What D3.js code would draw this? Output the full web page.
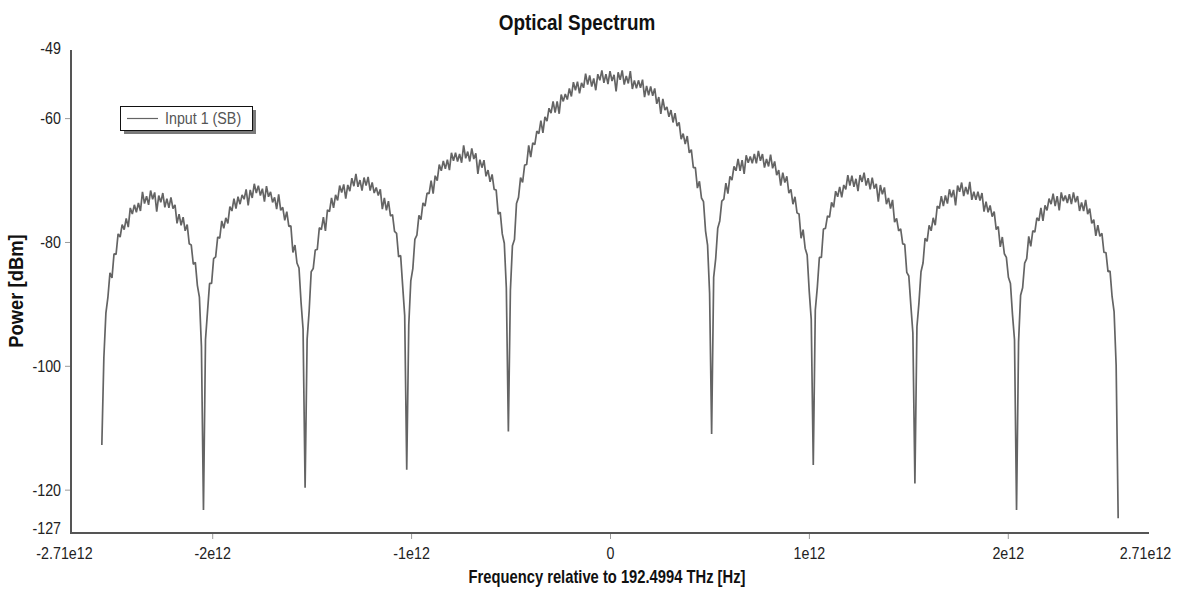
<!DOCTYPE html>
<html>
<head>
<meta charset="utf-8">
<script src="https://cdn.jsdelivr.net/npm/d3@7/dist/d3.min.js"></script>
<style>
  html, body { margin: 0; padding: 0; background: #ffffff; }
  svg { display: block; }
  text { font-family: "Liberation Sans", Arial, sans-serif; }
</style>
</head>
<body>
<script>
// ---- Data -----------------------------------------------------------------
const chartTitle = "Optical Spectrum";
const xTitle = "Frequency relative to 192.4994 THz [Hz]";
const yTitle = "Power [dBm]";
const seriesName = "Input 1 (SB)";

// Axis extent and ticks
const freqDomain = [-2.71e12, 2.71e12];
const powerDomain = [-127, -49];
const freqTicks = [-2.71e12, -2e12, -1e12, 0, 1e12, 2e12, 2.71e12];
const freqTickLabels = ["-2.71e12", "-2e12", "-1e12", "0", "1e12", "2e12", "2.71e12"];
const powerTicks = [-49, -60, -80, -100, -120, -127];
const powerTickLabels = ["-49", "-60", "-80", "-100", "-120", "-127"];

// Sample grid of the trace (Hz)
const freqStartHz = -2.555e12;
const freqStepHz = 1.022e10;

// Measured power per sample (dBm), left to right, one row group per lobe
const powerDbm = [
  // outer lobe, left
  -112.8, -98.7, -91.5, -88.9, -85.0, -85.8, -81.9, -82.0, -78.7, -79.2, -77.2, -78.0, -76.2, -77.6, -74.5, -75.5, -74.0,
  -75.2, -73.7, -75.0, -71.9, -73.8, -72.6, -74.0, -71.7, -73.1, -72.0, -75.1, -72.5, -73.6, -72.1, -74.4, -73.0, -74.5,
  -72.8, -74.6, -74.0, -77.0, -75.5, -77.3, -76.0, -78.2, -77.2, -80.3, -80.5, -83.6, -83.3, -87.0, -88.9, -96.9, -123.3,
  // third lobe, left
  -95.8, -91.2, -86.7, -86.7, -82.7, -82.4, -79.2, -79.4, -76.6, -77.8, -76.1, -77.0, -74.3, -75.0, -73.0, -74.6, -72.7,
  -73.9, -72.4, -73.1, -71.5, -74.1, -71.6, -72.9, -70.6, -72.1, -70.9, -72.5, -71.4, -73.5, -71.0, -72.7, -71.9, -73.6,
  -72.8, -74.7, -72.3, -74.9, -74.4, -76.5, -75.1, -77.5, -77.4, -81.7, -80.5, -83.4, -84.2, -89.7, -94.1, -119.7,
  // second lobe, left
  -95.7, -91.1, -84.8, -84.3, -81.3, -81.2, -77.7, -78.0, -76.0, -78.2, -74.8, -75.1, -72.9, -74.5, -72.4, -73.3, -70.9,
  -72.0, -70.7, -73.0, -70.8, -71.8, -69.7, -71.0, -69.0, -71.1, -70.0, -71.7, -69.6, -70.9, -69.5, -71.7, -70.4, -72.1,
  -71.2, -72.5, -71.5, -74.7, -72.9, -74.9, -73.4, -75.8, -75.6, -78.3, -78.6, -82.4, -82.2, -87.1, -91.9, -116.8,
  // first lobe, left
  -93.4, -86.3, -84.3, -79.6, -78.9, -75.7, -76.4, -73.7, -74.2, -72.1, -72.2, -70.1, -72.2, -69.3, -70.1, -67.5, -68.5,
  -66.9, -68.2, -66.7, -68.4, -65.6, -66.9, -65.6, -67.0, -65.8, -67.2, -64.4, -66.5, -65.4, -67.0, -64.9, -66.6, -65.7,
  -69.0, -66.7, -68.0, -66.8, -69.4, -68.4, -70.3, -69.1, -71.5, -71.6, -75.5, -75.2, -78.7, -80.2, -87.4, -110.6,
  // main lobe
  -87.8, -80.6, -79.6, -73.8, -72.8, -69.6, -70.4, -67.6, -67.5, -64.4, -66.3, -64.0, -64.3, -62.1, -62.5, -60.4, -62.4,
  -59.8, -60.5, -58.4, -59.2, -57.3, -59.1, -57.3, -59.3, -56.2, -57.3, -56.1, -57.0, -55.2, -56.5, -54.2, -55.5, -54.1,
  -56.0, -54.3, -55.1, -52.8, -54.6, -53.1, -54.9, -53.6, -55.5, -52.9, -53.9, -52.3, -54.3, -52.9, -54.5, -52.4, -54.0,
  -53.0, -55.7, -52.6, -53.8, -52.3, -54.6, -53.2, -54.4, -52.4, -55.3, -53.9, -55.2, -53.9, -55.1, -53.8, -56.6, -54.8,
  -56.3, -54.9, -56.4, -55.2, -57.7, -56.6, -59.3, -56.9, -58.7, -58.2, -59.8, -58.7, -60.7, -59.2, -61.3, -60.7, -63.4,
  -62.5, -64.2, -62.9, -65.6, -65.1, -68.0, -68.0, -71.3, -70.2, -72.9, -73.5, -78.2, -80.5, -88.3, -111.0,
  // first lobe, right
  -85.7, -82.7, -77.8, -76.6, -73.4, -73.1, -70.5, -72.2, -69.4, -70.0, -67.8, -68.5, -66.6, -68.5, -66.8, -69.0, -66.0,
  -67.2, -66.2, -67.3, -65.8, -67.3, -65.3, -66.9, -65.8, -68.0, -66.6, -67.8, -65.9, -68.1, -67.0, -69.2, -68.4, -70.9,
  -68.8, -70.4, -69.4, -72.1, -71.5, -73.9, -72.7, -75.3, -75.5, -79.4, -78.0, -81.0, -82.1, -87.9, -92.5, -116.0,
  // second lobe, right
  -91.0, -87.3, -82.5, -82.5, -77.9, -77.8, -75.8, -76.0, -73.6, -74.4, -71.8, -72.7, -71.1, -72.8, -70.8, -71.5, -69.2,
  -70.9, -69.3, -71.1, -69.8, -71.8, -69.2, -70.3, -68.8, -70.9, -69.7, -71.5, -69.6, -71.4, -70.6, -73.5, -70.8, -72.3,
  -71.2, -73.9, -72.9, -74.6, -73.2, -76.8, -76.2, -78.2, -77.9, -80.3, -80.4, -84.9, -85.5, -90.2, -94.7, -119.0,
  // third lobe, right
  -93.7, -89.8, -84.8, -83.4, -79.4, -79.9, -77.3, -78.2, -76.1, -77.3, -74.2, -74.6, -72.6, -74.2, -72.5, -73.8, -71.5,
  -72.8, -71.6, -74.1, -70.9, -71.9, -70.4, -72.6, -71.1, -72.3, -70.3, -73.2, -71.9, -73.2, -71.9, -73.3, -72.1, -75.1,
  -73.5, -75.2, -74.1, -75.9, -75.1, -78.0, -77.5, -80.8, -79.2, -81.9, -82.5, -85.7, -86.7, -91.7, -95.8, -123.3,
  // outer lobe, right
  -96.1, -88.6, -87.4, -83.4, -82.7, -79.1, -80.7, -78.2, -78.4, -76.1, -76.6, -74.5, -76.6, -74.1, -74.9, -73.0, -73.9,
  -72.2, -74.2, -72.6, -74.9, -72.0, -73.4, -72.5, -73.7, -72.3, -73.9, -72.0, -73.6, -72.6, -75.0, -73.6, -75.0, -73.2,
  -75.5, -74.6, -77.0, -76.4, -79.0, -77.3, -79.1, -78.6, -81.7, -81.7, -84.8, -84.7, -88.8, -91.3, -99.9, -124.6
];

// ---- Layout ---------------------------------------------------------------
const W = 1181, H = 589;
const plot = { left: 71, right: 1149, top: 50, bottom: 533 };
const condense = 0.84;   // horizontal squeeze for the narrow label face

const svg = d3.select("body").append("svg")
  .attr("width", W).attr("height", H)
  .attr("viewBox", `0 0 ${W} ${H}`);

svg.append("rect").attr("width", W).attr("height", H).attr("fill", "#ffffff");

const x = d3.scaleLinear().domain(freqDomain).range([plot.left, plot.right]);
const y = d3.scaleLinear().domain(powerDomain).range([plot.bottom, plot.top]);

const spectrum = powerDbm.map((p, i) => ({ f: freqStartHz + i * freqStepHz, p }));

// ---- Trace ----------------------------------------------------------------
svg.append("path")
  .datum(spectrum)
  .attr("fill", "none")
  .attr("stroke", "#646464")
  .attr("stroke-width", 1.7)
  .attr("stroke-linejoin", "bevel")
  .attr("d", d3.line().x(d => x(d.f)).y(d => y(d.p)));

// ---- Axes -----------------------------------------------------------------
const tickColor = "#9a9a9a";
const axisColor = "#555555";
const labelColor = "#222222";

const xAxis = d3.axisBottom(x)
  .tickValues(freqTicks)
  .tickFormat((d, i) => freqTickLabels[i])
  .tickSize(6).tickSizeOuter(0).tickPadding(8);

const gx = svg.append("g")
  .attr("transform", `translate(0,${plot.bottom})`)
  .call(xAxis);
gx.attr("font-family", null).attr("font-size", null);
gx.select(".domain").remove();
gx.selectAll(".tick line").attr("stroke", tickColor)
  .attr("display", (d, i) => (i === 0 || i === freqTicks.length - 1) ? "none" : null);
gx.selectAll(".tick text")
  .attr("fill", labelColor).attr("font-size", 17)
  .attr("transform", `scale(${condense},1)`)
  .attr("x", (d, i) => (i === 0 ? -7 : (i === freqTicks.length - 1 ? -4 : 0)) / condense);

const yAxis = d3.axisLeft(y)
  .tickValues(powerTicks)
  .tickFormat((d, i) => powerTickLabels[i])
  .tickSize(6).tickSizeOuter(0).tickPadding(4);

const gy = svg.append("g")
  .attr("transform", `translate(${plot.left},0)`)
  .call(yAxis);
gy.attr("font-family", null).attr("font-size", null);
gy.select(".domain").remove();
gy.selectAll(".tick line").attr("stroke", tickColor)
  .attr("display", (d, i) => (i === 0 || i === powerTicks.length - 1) ? "none" : null);
gy.selectAll(".tick text")
  .attr("fill", labelColor).attr("font-size", 17)
  .attr("transform", `scale(${condense},1)`)
  .attr("x", -10 / condense)
  .attr("y", (d, i) => i === 0 ? -2 : (i === powerTicks.length - 1 ? -5 : 0));

// Axis lines
svg.append("line")
  .attr("x1", plot.left).attr("x2", plot.left)
  .attr("y1", plot.top).attr("y2", plot.bottom + 1)
  .attr("stroke", axisColor).attr("stroke-width", 2);
svg.append("line")
  .attr("x1", plot.left - 1).attr("x2", plot.right)
  .attr("y1", plot.bottom).attr("y2", plot.bottom)
  .attr("stroke", axisColor).attr("stroke-width", 2);

// ---- Titles ---------------------------------------------------------------
function squeezedText(cx, cy, size, sx, str, rotate) {
  const rot = rotate ? ` rotate(${rotate})` : "";
  return svg.append("text")
    .attr("transform", `translate(${cx},${cy})${rot} scale(${sx},1)`)
    .attr("text-anchor", "middle")
    .attr("font-size", size).attr("font-weight", "bold")
    .attr("fill", "#111111")
    .text(str);
}
squeezedText(577, 30, 22, 0.86, chartTitle);
squeezedText(607, 583, 18, 0.82, xTitle);
squeezedText(23, 291, 20, 0.92, yTitle, -90);

// ---- Legend ---------------------------------------------------------------
const legend = svg.append("g").attr("transform", "translate(120,106)");
legend.append("rect")
  .attr("x", 4).attr("y", 4).attr("width", 132).attr("height", 24)
  .attr("fill", "#7a7a7a");
legend.append("rect")
  .attr("x", 0.5).attr("y", 0.5).attr("width", 132).attr("height", 24)
  .attr("fill", "#ffffff").attr("stroke", "#111111").attr("stroke-width", 1);
legend.append("line")
  .attr("x1", 7).attr("x2", 38).attr("y1", 12.5).attr("y2", 12.5)
  .attr("stroke", "#646464").attr("stroke-width", 1.2);
legend.append("text")
  .attr("transform", `translate(45,18) scale(${condense},1)`)
  .attr("font-size", 17).attr("fill", "#555555")
  .text(seriesName);
</script>
</body>
</html>
